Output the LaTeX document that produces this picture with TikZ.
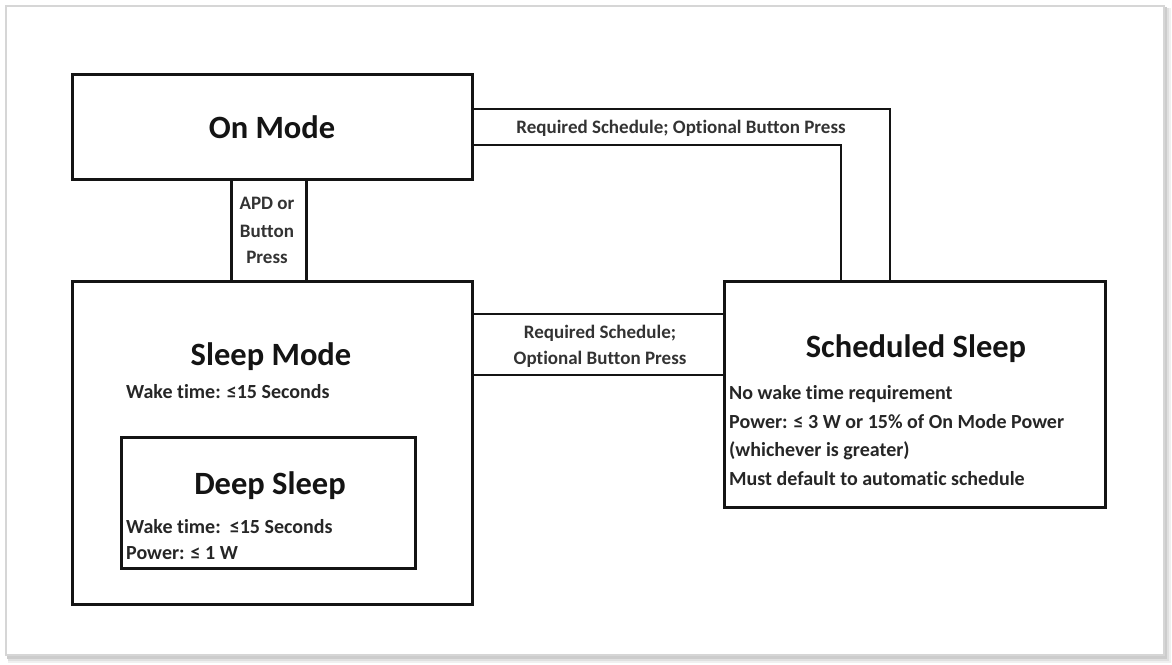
\documentclass[tikz,border=0pt]{standalone}
\usepackage{fontspec}
\setmainfont{Carlito}[Ligatures={NoCommon}]
\usetikzlibrary{calc}
\begin{document}
\begin{tikzpicture}[x=1pt,y=-1pt,
  box/.style={draw=black!92,line width=2.8pt,inner sep=0pt,anchor=north west},
  conn/.style={draw=black!92,line width=2.8pt},
  title/.style={font=\fontsize{32.5}{38}\selectfont\bfseries,anchor=base,inner sep=0pt,text=black!92},
  body/.style={font=\fontsize{20}{24}\selectfont\bfseries,anchor=base west,inner sep=0pt,text=black!85},
  lbl/.style={font=\fontsize{19}{22}\selectfont\bfseries,anchor=base,inner sep=0pt,text=black!80}]
\useasboundingbox (0,0) rectangle (1172,664);
% frame with soft shadow
\fill[black!6] (8,8) rectangle (1171,663);
\fill[black!12] (8,8) rectangle (1169,661);
\fill[black!20] (7,7) rectangle (1167,659);
\filldraw[fill=white,draw=black!16,line width=1.6pt] (6,6) rectangle (1164,655);
% boxes
\node[box,minimum width=400pt,minimum height=105pt] (onmode) at (71,73) {};
\node[box,minimum width=400pt,minimum height=323pt] (sleep) at (71,280) {};
\node[box,minimum width=294pt,minimum height=131pt] (deep) at (120,436) {};
\node[box,minimum width=381pt,minimum height=226pt] (sched) at (723,280) {};
% connectors
\draw[conn] ([yshift=18pt]onmode.east) -| ([xshift=-25pt]sched.north);
\draw[conn] ([yshift=-18pt]onmode.east) -| ([xshift=-74pt]sched.north);
\draw[conn] ([xshift=-41pt]onmode.south) -- ($(sleep.north)+(-41,0)$);
\draw[conn] ([xshift=34pt]onmode.south) -- ($(sleep.north)+(34,0)$);
\draw[conn] ($(sleep.north east)+(0,34)$) -- ($(sched.north west)+(0,34)$);
\draw[conn] ($(sleep.north east)+(0,95)$) -- ($(sched.north west)+(0,95)$);
% titles
\node[title] (tOn) at (272,138) {On Mode};
\node[title] (tSleep) at (271,365) {Sleep Mode};
\node[title] (tDeep) at (270,494) {Deep Sleep};
\node[title] (tSched) at (916,357) {Scheduled Sleep};
% body text
\node[body] (sw) at (126,398) {Wake time: ≤15 Seconds};
\node[body] (dw) at (126,533) {Wake time:\ \ ≤15 Seconds};
\node[body] (dp) at (126,559) {Power: ≤ 1 W};
\node[body] (s1) at (729,399) {No wake time requirement};
\node[body] (s2) at (729,428) {Power: ≤ 3 W or 15\% of On Mode Power};
\node[body] (s3) at (729,456) {(whichever is greater)};
\node[body] (s4) at (729,485) {Must default to automatic schedule};
% connector labels
\node[lbl] (l1) at (681,133) {Required Schedule; Optional Button Press};
\node[lbl] (l2) at (600,338) {Required Schedule;};
\node[lbl] (l3) at (600,364) {Optional Button Press};
\node[lbl] (a1) at (267,209) {APD or};
\node[lbl] (a2) at (267,237) {Button};
\node[lbl] (a3) at (267,263) {Press};
\end{tikzpicture}
\end{document}
